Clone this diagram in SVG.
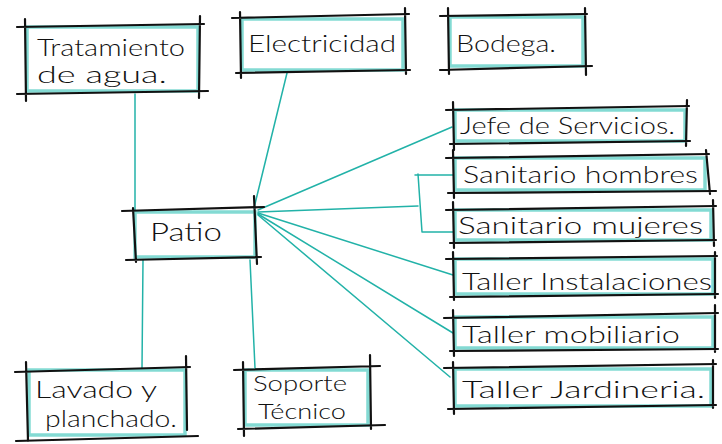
<svg xmlns="http://www.w3.org/2000/svg" width="722" height="444" viewBox="0 0 722 444">
<style>
.band{fill:#ffffff;stroke:#4fcac0;stroke-width:3.5;stroke-opacity:0.7}
.edge{fill:none;stroke:#111;stroke-width:2.2;stroke-linecap:round}
.t{font-family:"Lato","Liberation Sans","DejaVu Sans",sans-serif;font-weight:300;font-size:23px;fill:#111}
.s{font-size:21px}
.c{fill:none;stroke:#22b2a8;stroke-width:1.5;stroke-linecap:round}
</style>
<rect width="722" height="444" fill="#ffffff"/>
<g id="connectors">
<path class="c" d="M135 94 L135 210"/>
<path class="c" d="M287 73 L254 208"/>
<path class="c" d="M258 210 L452 127"/>
<path class="c" d="M258 212 L418 206"/>
<path class="c" d="M415 175 H453 M418 174 L422 232 M422 232 H453"/>
<path class="c" d="M258 213 L453 275"/>
<path class="c" d="M258 214 L453 333"/>
<path class="c" d="M258 215 L450 377"/>
<path class="c" d="M250 260 L255 368"/>
<path class="c" d="M143 260 L142 368"/>
</g>
<g id="tratamiento">
<rect class="band" x="27" y="27" width="171" height="64"/>
<path class="edge" d="M17 27 L204 24 M17 94 L208 91 M25 19 L26 101 M200 16 L199 98"/>
<text class="t" x="37" y="56" textLength="148" lengthAdjust="spacingAndGlyphs">Tratamiento</text>
<text class="t" x="37" y="83" textLength="130" lengthAdjust="spacingAndGlyphs">de agua.</text>
</g>
<g id="electricidad">
<rect class="band" x="242" y="19" width="161" height="51"/>
<path class="edge" d="M232 18 L409 14 M236 73 L410 70 M240 12 L241 78 M405 8 L406 74"/>
<text class="t" x="248" y="52" textLength="148" lengthAdjust="spacingAndGlyphs">Electricidad</text>
</g>
<g id="bodega">
<rect class="band" x="450" y="17" width="133" height="49"/>
<path class="edge" d="M440 16 L587 14 M440 70 L592 66 M448 8 L449 74 M585 8 L586 75"/>
<text class="t" x="456" y="52" textLength="100" lengthAdjust="spacingAndGlyphs">Bodega.</text>
</g>
<g id="jefe">
<rect class="band" x="455" y="110" width="230" height="31"/>
<path class="edge" d="M446 110 L689 106 M450 144 L690 141 M453 102 L454 150 M687 100 L686 146"/>
<text class="t" x="460" y="134" textLength="215" lengthAdjust="spacingAndGlyphs">Jefe de Servicios.</text>
</g>
<g id="sanitario-hombres">
<rect class="band" x="455" y="158" width="250" height="32"/>
<path class="edge" d="M446 158 L709 154 M448 193 L716 191 M453 150 L454 198 M706 150 L710 194"/>
<text class="t" x="463" y="183" textLength="235" lengthAdjust="spacingAndGlyphs">Sanitario hombres</text>
</g>
<g id="sanitario-mujeres">
<rect class="band" x="455" y="210" width="256" height="30"/>
<path class="edge" d="M446 210 L716 206 M450 243 L716 240 M453 202 L454 248 M713 200 L714 246"/>
<text class="t" x="458" y="234" textLength="245" lengthAdjust="spacingAndGlyphs">Sanitario mujeres</text>
</g>
<g id="taller-instalaciones">
<rect class="band" x="455" y="259" width="258" height="35"/>
<path class="edge" d="M446 259 L717 256 M450 297 L718 294 M453 252 L454 300 M715 252 L715 298"/>
<text class="t" x="462" y="290" textLength="250" lengthAdjust="spacingAndGlyphs">Taller Instalaciones</text>
</g>
<g id="taller-mobiliario">
<rect class="band" x="455" y="317" width="258" height="31"/>
<path class="edge" d="M444 318 L718 313 M450 351 L718 349 M453 310 L454 356 M715 305 L715 352"/>
<text class="t" x="462" y="343" textLength="218" lengthAdjust="spacingAndGlyphs">Taller mobiliario</text>
</g>
<g id="taller-jardineria">
<rect class="band" x="455" y="369" width="256" height="37"/>
<path class="edge" d="M444 368 L716 364 M448 409 L716 405 M453 362 L454 414 M713 360 L713 408"/>
<text class="t" x="462" y="398" textLength="243" lengthAdjust="spacingAndGlyphs">Taller Jardineria.</text>
</g>
<g id="patio">
<rect class="band" x="135" y="212" width="120" height="45"/>
<path class="edge" d="M122 211 L264 207 M126 260 L261 257 M133 208 L136 262 M254 196 L257 264"/>
<text class="t" x="150" y="241" textLength="72" lengthAdjust="spacingAndGlyphs" style="font-size:25px">Patio</text>
</g>
<g id="lavado">
<rect class="band" x="29" y="370" width="156" height="65"/>
<path class="edge" d="M15 372 L190 367 M16 441 L198 436 M26 362 L28 441 M186 356 L187 430"/>
<text class="t" x="35" y="398" textLength="122" lengthAdjust="spacingAndGlyphs">Lavado y</text>
<text class="t" x="45" y="427" textLength="132" lengthAdjust="spacingAndGlyphs">planchado.</text>
</g>
<g id="soporte">
<rect class="band" x="245" y="370" width="123" height="55"/>
<path class="edge" d="M234 370 L380 366 M238 429 L385 425 M243 362 L244 436 M370 355 L371 429"/>
<text class="t s" x="253" y="391" textLength="94" lengthAdjust="spacingAndGlyphs">Soporte</text>
<text class="t s" x="258" y="419" textLength="88" lengthAdjust="spacingAndGlyphs">Técnico</text>
</g>
</svg>
